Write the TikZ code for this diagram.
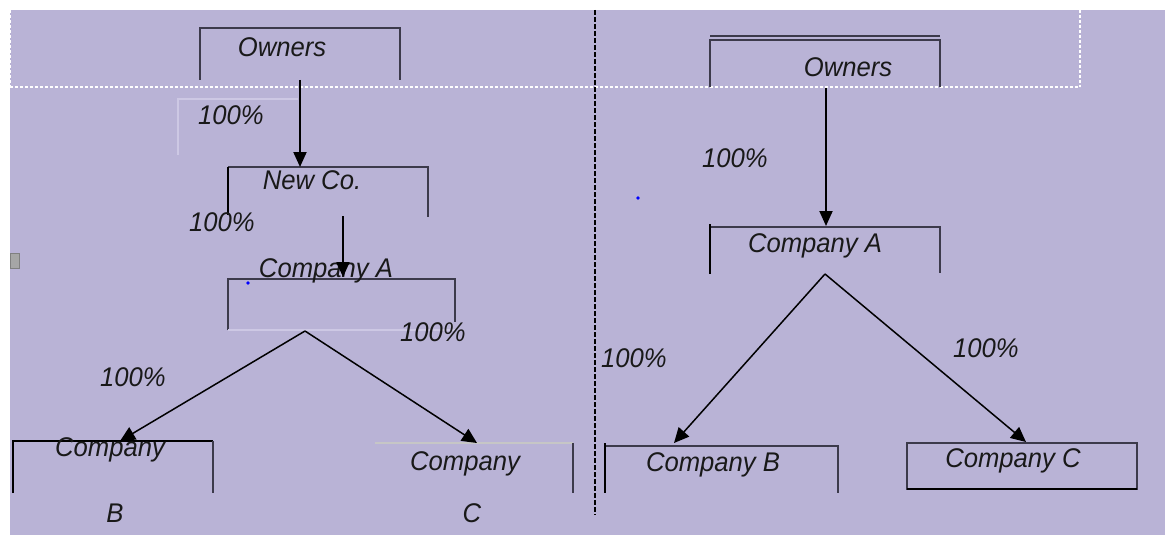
\documentclass[tikz,border=0pt]{standalone}
\usepackage{fontspec}
\setmainfont{Liberation Sans}
\usetikzlibrary{arrows.meta}
\definecolor{bg}{RGB}{185,179,214}
\definecolor{boxln}{RGB}{60,58,75}
\definecolor{faint}{RGB}{205,200,228}
\tikzset{
  lbl/.style={font=\fontsize{27}{29}\selectfont\itshape, inner sep=0pt, text=black!90, xscale=0.95},
  bx/.style={draw=boxln, line width=1.2pt},
  bxthick/.style={draw=black, line width=2pt},
  fnt/.style={draw=faint, line width=1.2pt},
  arr/.style={draw=black, line width=2pt, -{Triangle[length=15pt,width=13pt]}},
  darr/.style={draw=black, line width=1.5pt, -{Triangle[length=15pt,width=14pt]}},
  wdash/.style={draw=white, line width=1.2pt, dash pattern=on 3pt off 2pt},
  kdash/.style={draw=black, line width=1.5pt, dash pattern=on 5pt off 2pt}
}
\begin{document}
\begin{tikzpicture}[x=1pt,y=-1pt]
\useasboundingbox (0,0) rectangle (1165,535);
\fill[white] (0,0) rectangle (1165,535);
\fill[bg] (10,10) rectangle (1165,535);
% dotted region lines
\draw[wdash] (10,87) -- (1080,87);
\draw[wdash] (1080,10) -- (1080,87);
\draw[wdash] (10,10) -- (10,87);
\draw[kdash] (595,10) -- (595,515);
% small grey square
\fill[gray!70, draw=gray] (10,253) rectangle (19,268);

% ---------- left side ----------
% Owners
\draw[bx] (200,80) -- (200,28) -- (400,28) -- (400,80);
\node[lbl] (ownL) at (282,47) {Owners};
\coordinate (ownLs) at (300,80);
% faint box near 100%
\draw[fnt] (178,155) -- (178,99) -- (298,99);
\node[lbl] (pL1) at (231,115) {100\%};
% New Co.
\draw[bx] (228,167) -- (428,167) -- (428,217);
\draw[bxthick, line width=1.5pt] (228,167) -- (228,215);
\node[lbl] (newco) at (312,180) {New Co.};
\coordinate (newcoT) at (300,167);
\draw[arr] (ownLs) -- (newcoT);
\node[lbl] (pL2) at (222,222) {100\%};
\coordinate (newcoS) at (343,216);
% Company A
\draw[bx] (228,330) -- (228,279) -- (455,279) -- (455,322);
\draw[fnt] (228,330) -- (455,330);
\node[lbl] (compAL) at (326,271) {Company A};
\coordinate (compALt) at (343,277);
\draw[arr] (newcoS) -- (compALt);
\fill[blue] (248,283) circle (1.8pt);
\node[lbl] (pL3) at (433,332) {100\%};
\coordinate (compALs) at (305,331);
\node[lbl] (pL4) at (133,377) {100\%};
% Company B (left)
\draw[bxthick] (13,493) -- (13,441) -- (213,441);
\draw[bx] (213,441) -- (213,493);
\node[lbl] (compBL) at (110,450) {Company};
\node[lbl] (compBL2) at (115,513) {B};
\coordinate (compBLt) at (120,441);
% Company C (left)
\draw[fnt, draw=gray!45!white] (375,443) -- (573,443);
\draw[bx] (573,443) -- (573,493);
\node[lbl] (compCL) at (465,464) {Company};
\node[lbl] (compCL2) at (472,513) {C};
\coordinate (compCLt) at (477,443);
\draw[darr] (compALs) -- (compBLt);
\draw[darr] (compALs) -- (compCLt);

% ---------- right side ----------
\draw[bx] (710,36) -- (940,36);
\draw[bx] (710,87) -- (710,40) -- (940,40) -- (940,87);
\node[lbl] (ownR) at (848,67) {Owners};
\coordinate (ownRs) at (826,88);
\node[lbl] (pR1) at (735,158) {100\%};
\fill[blue] (638,198) circle (1.8pt);
% Company A right
\draw[bx] (710,227) -- (940,227) -- (940,273);
\draw[bxthick, line width=1.6pt] (710,224) -- (710,274);
\node[lbl] (compAR) at (815,246) {Company A};
\coordinate (compARt) at (826,226);
\draw[arr] (ownRs) -- (compARt);
\coordinate (compARs) at (825,274);
\node[lbl] (pR2) at (634,358) {100\%};
\node[lbl] (pR3) at (986,348) {100\%};
% Company B right
\draw[bx] (605,446) -- (838,446) -- (838,493);
\draw[bxthick, line width=1.6pt] (605,443) -- (605,493);
\node[lbl] (compBR) at (713,465) {Company B};
\coordinate (compBRt) at (674,443);
% Company C right
\draw[bx] (907,443) rectangle (1137,489);
\draw[bxthick, line width=1.6pt] (907,489) -- (1137,489);
\node[lbl] (compCR) at (1013,461) {Company C};
\coordinate (compCRt) at (1026,442);
\draw[darr] (compARs) -- (compBRt);
\draw[darr] (compARs) -- (compCRt);
\end{tikzpicture}
\end{document}
